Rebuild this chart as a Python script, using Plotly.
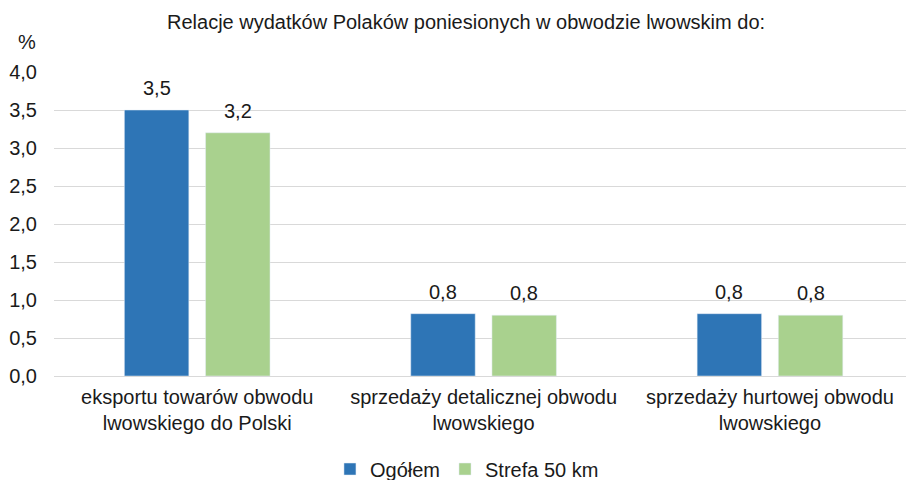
import plotly.graph_objects as go

categories = ["eksportu towarów obwodu<br>lwowskiego do Polski",
              "sprzedaży detalicznej obwodu<br>lwowskiego",
              "sprzedaży hurtowej obwodu<br>lwowskiego"]
ogolem = [3.5, 0.82, 0.82]
strefa = [3.2, 0.8, 0.8]
y_ticks = [0, 0.5, 1, 1.5, 2, 2.5, 3, 3.5, 4]

font = "Liberation Sans, Arial, sans-serif"
FS = 20
BARGAP = 0.433
CAT_PX = 286.25  # pixel width of one category

fig = go.Figure()
series = [("Ogółem", ogolem, "#2E75B6"), ("Strefa 50 km", strefa, "#A9D18E")]
for name, vals, col in series:
    fig.add_trace(go.Bar(x=categories, y=vals, name=name, marker_color=col))

annotations = [
    dict(text="Relacje wydatków Polaków poniesionych w obwodzie lwowskim do:",
         xref="paper", yref="paper", x=0.4836, y=1.164, xanchor="center", yanchor="middle",
         showarrow=False, font=dict(size=FS)),
    dict(text="%", xref="paper", yref="paper", x=-0.032, y=1.099, xanchor="center",
         yanchor="middle", showarrow=False, font=dict(size=FS)),
]
slot = (1 - BARGAP) * CAT_PX / 2
for j, (name, vals, col) in enumerate(series):
    shift = (j - 0.5) * slot
    for c, v in zip(categories, vals):
        annotations.append(dict(text=f"{v:.1f}".replace(".", ","), x=c, y=v, xref="x", yref="y",
                                xshift=shift, yshift=22, xanchor="center", yanchor="middle",
                                showarrow=False, font=dict(size=FS)))

fig.update_layout(
    width=906, height=480,
    margin=dict(l=54, r=0, t=72, b=104, autoexpand=False),
    paper_bgcolor="white", plot_bgcolor="white",
    separators=", ",
    font=dict(family=font, size=FS, color="#1a1a1a"),
    barmode="group", bargap=BARGAP, bargroupgap=0.206,
    showlegend=True,
    legend=dict(orientation="h", x=0.4847, xanchor="center", y=-0.306, yanchor="middle",
                font=dict(size=FS), itemwidth=30, traceorder="normal"),
    annotations=annotations,
)
fig.update_xaxes(range=[-0.5, 2.475], showline=True, linecolor="#D9D9D9", linewidth=1,
                 ticks="", tickfont=dict(size=FS), automargin=False, ticklabelstandoff=3)
fig.update_yaxes(range=[0, 4], tickvals=y_ticks, tickformat=".1f", showgrid=True,
                 gridcolor="#D9D9D9", gridwidth=1, zeroline=False, showline=False,
                 ticks="outside", ticklen=12, tickcolor="white", tickfont=dict(size=FS),
                 automargin=False)

fig.write_html("out.html", config={"displayModeBar": False},
               post_script="document.body.style.margin='0';document.body.style.overflow='hidden';")
